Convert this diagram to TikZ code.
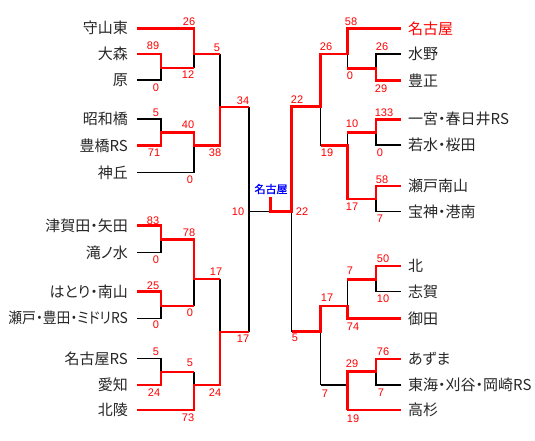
\documentclass[tikz,border=0pt]{standalone}
\usepackage{fontspec}
\setmainfont{Liberation Sans}
\newfontfamily\jp[RawFeature=+palt]{Noto Sans CJK JP}
\newfontfamily\jpb[FakeBold=1.2]{Noto Sans CJK JP}
\begin{document}
\begin{tikzpicture}[x=1pt,y=-1pt,
  blk/.style={line width=1.5pt, black},
  rd/.style={line width=2.8pt, red, line join=miter},
  scr/.style={font=\fontsize{11}{11}\selectfont, text=red, inner sep=0pt},
  tmL/.style={font=\jp\fontsize{15}{15}\selectfont, text=black!85, anchor=east, inner sep=0pt},
  tmR/.style={font=\jp\fontsize{15}{15}\selectfont, text=black!85, anchor=west, inner sep=0pt},
  champ/.style={font=\jpb\fontsize{11}{11}\selectfont, text=blue, inner sep=0pt}]
\useasboundingbox (0,0) rectangle (535,440);

% ---------- team names, left ----------
\node[tmL] (tA) at (128,28.3) {守山東};
\node[tmL] (tB) at (128,54) {大森};
\node[tmL] (tC) at (128,80) {原};
\node[tmL] (tD) at (128,119) {昭和橋};
\node[tmL] (tE) at (128,145.7) {豊橋RS};
\node[tmL] (tF) at (128,172.3) {神丘};
\node[tmL] (tG) at (128,225.7) {津賀田・矢田};
\node[tmL] (tH) at (128,252.3) {滝ノ水};
\node[tmL] (tI) at (128,291.7) {はとり・南山};
\node[tmL] (tJ) at (128,318.3) {\scalebox{0.92}[1]{瀬戸・豊田・ミドリRS}};
\node[tmL] (tK) at (128,358.3) {名古屋RS};
\node[tmL] (tL) at (128,385) {愛知};
\node[tmL] (tM) at (128,410) {北陵};
% ---------- team names, right ----------
\node[tmR, text=red] (ta) at (408,28.3) {名古屋};
\node[tmR] (tb) at (408,54) {水野};
\node[tmR] (tc) at (408,80.7) {豊正};
\node[tmR] (td) at (408,119.3) {一宮・春日井RS};
\node[tmR] (te) at (408,145) {若水・桜田};
\node[tmR] (tf) at (408,186) {瀬戸南山};
\node[tmR] (tg) at (408,211.7) {宝神・港南};
\node[tmR] (th) at (408,266) {北};
\node[tmR] (ti) at (408,291.7) {志賀};
\node[tmR] (tj) at (408,318.3) {御田};
\node[tmR] (tk) at (408,359) {あずま};
\node[tmR] (tl) at (408,385) {東海・刈谷・岡崎RS};
\node[tmR] (tm) at (408,410) {高杉};

% ---------- black lines, left ----------
\draw[blk] (137,80)--(161,80)--(161,68);
\draw[blk] (137,119)--(161,119)--(161,132.3);
\draw[blk] (137,172.3)--(194,172.3)--(194,145.7);
\draw[blk] (137,252.3)--(161,252.3)--(161,239.3);
\draw[blk] (137,318.3)--(161,318.3)--(161,306);
\draw[blk] (137,358.3)--(161,358.3)--(161,372);
\draw[blk] (194,54)--(194,68);
\draw[blk] (220,54)--(220,107);
\draw[blk] (194,279)--(194,306);
\draw[blk] (194,372)--(194,385);
\draw[blk] (220,279)--(220,332);
\draw[blk] (249,107)--(249,332);
\draw[blk] (249,211.7)--(270.7,211.7);
% ---------- black lines, right ----------
\draw[blk] (401,54)--(376,54)--(376,68.3);
\draw[blk] (347.3,54)--(347.3,68.3);
\draw[blk] (401,145)--(376,145)--(376,132.3);
\draw[blk] (401,211.7)--(376,211.7)--(376,199);
\draw[blk] (347.3,132.3)--(347.3,145.7);
\draw[blk] (320.7,106.7)--(320.7,145.7);
\draw[blk] (401,291.7)--(376,291.7)--(376,279.3);
\draw[blk] (347.3,279.3)--(347.3,306);
\draw[blk] (401,385)--(376,385)--(376,371.7);
\draw[blk] (347.3,385)--(320.7,385);
\draw[blk] (320.7,331.7)--(320.7,385);
\draw[blk] (291.7,211.7)--(291.7,331.7);

% ---------- red lines, left ----------
\draw[rd] (137,28.3)--(194,28.3)--(194,54)--(220,54);
\draw[rd] (137,54)--(161,54)--(161,68)--(194,68);
\draw[rd] (137,145.7)--(161,145.7)--(161,132.3)--(194,132.3)--(194,145.7)--(220,145.7)--(220,107)--(249,107);
\draw[rd] (137,225.7)--(161,225.7)--(161,239.3)--(194,239.3)--(194,279)--(220,279);
\draw[rd] (137,291.7)--(161,291.7)--(161,306)--(194,306);
\draw[rd] (137,385)--(161,385)--(161,372)--(194,372);
\draw[rd] (137,410)--(194,410)--(194,385)--(220,385)--(220,332)--(249,332);
% ---------- red lines, right ----------
\draw[rd] (401,28.3)--(347.3,28.3)--(347.3,54)--(320.7,54)--(320.7,106.7)--(291.7,106.7)--(291.7,211.7)--(270.7,211.7)--(270.7,196.7);
\draw[rd] (401,80.7)--(376,80.7)--(376,68.3)--(347.3,68.3);
\draw[rd] (401,119.3)--(376,119.3)--(376,132.3)--(347.3,132.3);
\draw[rd] (401,186)--(376,186)--(376,199)--(347.3,199)--(347.3,145.7)--(320.7,145.7);
\draw[rd] (401,266)--(376,266)--(376,279.3)--(347.3,279.3);
\draw[rd] (401,318.3)--(347.3,318.3)--(347.3,306)--(320.7,306)--(320.7,331.7)--(291.7,331.7);
\draw[rd] (401,359)--(376,359)--(376,371.7)--(347.3,371.7)--(347.3,410);
\draw[rd] (401,410)--(347.3,410);

% ---------- champion ----------
\node[champ] (chm) at (271,189) {名古屋};

% ---------- scores, left ----------
\node[scr] (s1) at (189,22) {26};
\node[scr] (s2) at (153,46) {89};
\node[scr] (s3) at (188,75) {12};
\node[scr] (s4) at (156,88) {0};
\node[scr] (s5) at (217,48) {5};
\node[scr] (s6) at (243,101) {34};
\node[scr] (s7) at (156,113) {5};
\node[scr] (s8) at (188,125) {40};
\node[scr] (s9) at (154,153) {71};
\node[scr] (s10) at (215,153) {38};
\node[scr] (s11) at (190,180) {0};
\node[scr] (s12) at (238,212) {10};
\node[scr] (s13) at (153,221) {83};
\node[scr] (s14) at (189,233) {78};
\node[scr] (s15) at (156,260) {0};
\node[scr] (s16) at (216,272) {17};
\node[scr] (s17) at (153,286) {25};
\node[scr] (s18) at (190,313) {0};
\node[scr] (s19) at (156,325) {0};
\node[scr] (s20) at (243,339) {17};
\node[scr] (s21) at (156,352) {5};
\node[scr] (s22) at (190,363) {5};
\node[scr] (s23) at (154,393) {24};
\node[scr] (s24) at (215,393) {24};
\node[scr] (s25) at (188,418) {73};
% ---------- scores, right ----------
\node[scr] (r1) at (351,22) {58};
\node[scr] (r2) at (382,47) {26};
\node[scr] (r3) at (326,47) {26};
\node[scr] (r4) at (350,76) {0};
\node[scr] (r5) at (381,89) {29};
\node[scr] (r6) at (297,100) {22};
\node[scr] (r7) at (384,113) {133};
\node[scr] (r8) at (352,124) {10};
\node[scr] (r9) at (327,153) {19};
\node[scr] (r10) at (380,153) {0};
\node[scr] (r11) at (382,180) {58};
\node[scr] (r12) at (352,207) {17};
\node[scr] (r13) at (302,212) {22};
\node[scr] (r14) at (380,219) {7};
\node[scr] (r15) at (383,259) {50};
\node[scr] (r16) at (350,271) {7};
\node[scr] (r17) at (327,298) {17};
\node[scr] (r18) at (383,299) {10};
\node[scr] (r19) at (353,327) {74};
\node[scr] (r20) at (295,338) {5};
\node[scr] (r21) at (383,352) {76};
\node[scr] (r22) at (352,364) {29};
\node[scr] (r23) at (381,393) {7};
\node[scr] (r24) at (325,394) {7};
\node[scr] (r25) at (353,419) {19};
\end{tikzpicture}
\end{document}
